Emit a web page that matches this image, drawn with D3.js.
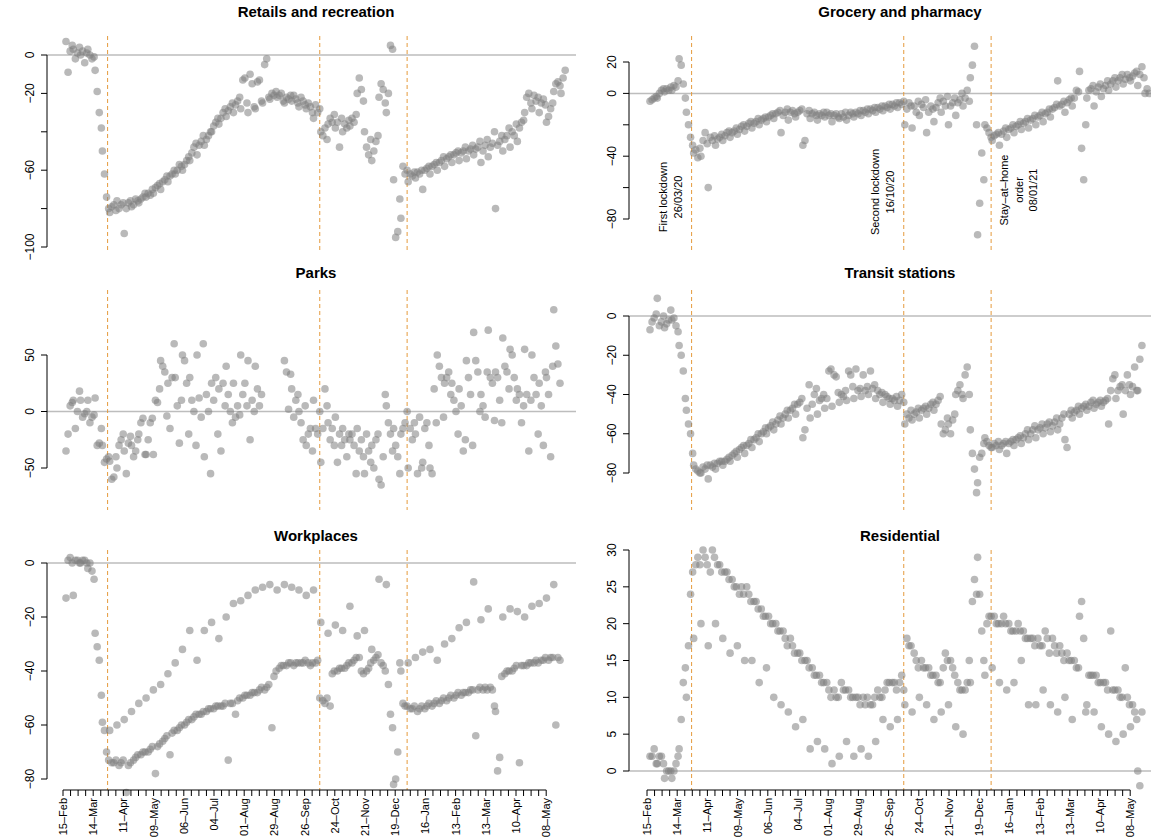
<!DOCTYPE html>
<html>
<head>
<meta charset="utf-8">
<script src="https://cdn.jsdelivr.net/npm/d3@7"></script>
<style>
  body { margin: 0; background: #fff; }
  svg { font-family: "Liberation Sans", Arial, sans-serif; }
</style>
</head>
<body>
<svg id="chart" width="1151" height="837"></svg>
<script>
// weekly rows, values on Sat, Mon, Wed, Fri of each week starting 15 Feb 2020
const retail = [
  [7,-9,2,5],[3,-2,1,4],[0,2,-4,1],[3,0,-2,-1],[-8,-19,-30,-38],[-50,-62,-74,-80],
  [-82,-79,-78,-81],[-76,-80,-78,-77],[-93,-80,-77,-76],[-79,-78,-75,-76],[-77,-75,-74,-72],
  [-74,-72,-73,-70],[-72,-69,-68,-67],[-70,-66,-65,-63],[-66,-63,-62,-60],[-62,-60,-57,-58],
  [-60,-57,-55,-53],[-55,-51,-48,-46],[-52,-47,-45,-42],[-47,-44,-42,-40],[-40,-37,-35,-33],
  [-36,-33,-30,-28],[-32,-29,-27,-25],[-30,-26,-24,-22],[-28,-13,-12,-25],[-30,-10,-15,-27],
  [-28,-14,-13,-24],[-25,-5,-2,-22],[-23,-20,-21,-19],[-22,-21,-20,-24],[-25,-22,-23,-21],
  [-24,-21,-23,-25],[-27,-22,-24,-26],[-28,-25,-27,-30],[-33,-26,-30,-28],[-40,-42,-38,-44],
  [-36,-33,-35,-31],[-38,-35,-48,-33],[-40,-36,-38,-34],[-37,-33,-35,-31],[-20,-12,-18,-24],
  [-40,-48,-52,-44],[-55,-50,-45,-42],[-22,-15,-18,-25],[-30,-20,5,3],[-65,-95,-92,-75],
  [-85,-58,-62,-60],[-66,-62,-63,-61],[-64,-61,-62,-60],[-70,-60,-59,-58],[-62,-58,-57,-56],
  [-60,-56,-55,-53],[-58,-54,-53,-52],[-56,-52,-51,-50],[-55,-51,-50,-48],[-54,-50,-49,-47],
  [-52,-49,-48,-45],[-56,-50,-47,-44],[-53,-48,-46,-40],[-80,-47,-45,-42],[-50,-44,-42,-38],
  [-48,-40,-42,-36],[-45,-38,-35,-34],[-30,-22,-20,-25],[-28,-21,-24,-22],[-30,-25,-23,-26],
  [-35,-32,-28,-25],[-19,-15,-14,-16],[-20,-12,-8]
];
const grocery = [
  [-5,-4,-3,-2],[-3,0,2,3],[1,3,2,4],[2,5,4,8],[22,18,6,-3],[-12,-20,-28,-33],
  [-38,-36,-41,-35],[-40,-30,-25,-32],[-60,-28,-30,-27],[-33,-29,-28,-26],[-30,-27,-25,-24],
  [-28,-25,-24,-22],[-26,-23,-21,-20],[-24,-21,-19,-18],[-22,-19,-18,-16],[-20,-17,-16,-15],
  [-18,-15,-14,-13],[-16,-13,-12,-11],[-25,-14,-12,-10],[-17,-12,-11,-13],[-15,-12,-11,-10],
  [-33,-30,-13,-11],[-16,-13,-12,-14],[-17,-13,-14,-12],[-15,-12,-14,-13],[-18,-14,-13,-15],
  [-16,-13,-15,-12],[-17,-14,-12,-13],[-15,-12,-13,-11],[-14,-11,-12,-10],[-13,-10,-11,-9],
  [-12,-9,-10,-8],[-11,-8,-9,-7],[-10,-7,-8,-6],[-9,-6,-7,-5],[-20,-10,-6,-8],
  [-22,-8,-12,-5],[-14,-7,-9,-4],[-25,-12,-8,-10],[-18,-9,-6,-3],[-12,-5,-8,-2],
  [-20,-8,-6,-3],[-14,-6,-4,0],[-8,-3,2,-5],[10,18,30,-20],[-90,-70,-38,-55],
  [-20,-22,-25,-28],[-30,-27,-26,-25],[-33,-26,-24,-22],[-28,-23,-22,-20],[-25,-21,-20,-18],
  [-23,-19,-18,-16],[-22,-17,-16,-14],[-20,-15,-14,-12],[-18,-13,-12,-10],[-15,-10,-9,-7],
  [8,-8,-7,-5],[-12,-6,-4,-3],[-8,-3,2,1],[14,-35,-55,-20],[-3,2,3,5],
  [-8,1,4,6],[-2,3,5,8],[2,6,8,10],[4,8,10,12],[6,9,12,10],
  [8,11,13,14],[5,12,17,10],[0,3,0]
];
const parks = [
  [-35,-20,5,8],[10,-15,0,18],[10,-5,-2,0],[10,-10,-5,-3],[12,-30,-28,-15],[-30,-45,-42,-40],
  [-44,-60,-58,-40],[-50,-30,-25,-20],[-35,-55,-28,-22],[-30,-40,-35,-25],[-20,-10,-6,-38],
  [-38,-25,-10,-6],[-38,10,8,20],[45,40,35,-4],[25,-15,30,60],[30,5,-28,10],
  [50,45,25,-20],[30,10,0,-30],[50,12,-5,60],[-40,15,0,-55],[25,10,30,-20],
  [20,-35,25,5],[40,15,0,-10],[25,-5,5,-3],[50,15,25,5],[45,-25,10,0],
  [40,20,5,15],[null,null,null,null],[null,null,null,null],[null,null,null,null],[45,35,2,33],
  [20,-5,10,15],[0,-10,-25,5],[-30,-20,-15,-35],[10,-15,-20,0],[-45,-15,20,5],
  [-10,-25,-15,-30],[-5,-45,-20,-30],[-15,-25,-40,-20],[-25,-20,-30,-55],[-15,-35,-25,-40],
  [-55,-20,-35,-45],[-30,-50,-25,-20],[-60,-65,-40,15],[5,-10,-20,-35],[-15,-30,-40,-55],
  [-20,-15,-10,0],[-50,-15,-25,-10],[-20,-55,-5,-50],[-45,-15,-10,-30],[-50,-55,20,-10],
  [50,40,30,-5],[25,30,35,15],[25,10,0,-20],[20,5,-35,-25],[45,30,15,-30],
  [70,45,35,0],[15,5,-5,35],[72,30,25,-8],[35,30,10,-10],[65,40,35,20],
  [55,50,30,10],[20,15,-10,5],[55,15,-35,10],[50,30,15,-20],[25,5,-30,35],
  [30,15,-40,40],[90,58,42,25]
];
const transit = [
  [-7,-3,-1,1],[9,-5,-3,0],[-6,-4,-2,3],[-2,-1,-5,-8],[-15,-20,-28,-42],[-48,-55,-60,-70],
  [-76,-78,-79,-80],[-80,-77,-78,-76],[-83,-76,-77,-75],[-78,-75,-74,-74],[-76,-74,-73,-72],
  [-74,-71,-70,-69],[-72,-68,-67,-66],[-70,-66,-65,-63],[-67,-63,-62,-60],[-64,-60,-59,-57],
  [-60,-57,-56,-54],[-58,-55,-53,-51],[-55,-52,-50,-48],[-52,-48,-47,-45],[-50,-45,-44,-42],
  [-62,-58,-47,-35],[-52,-45,-40,-37],[-50,-43,-42,-40],[-47,-42,-28,-27],[-46,-30,-31,-39],
  [-44,-40,-41,-38],[-43,-28,-30,-36],[-42,-27,-38,-37],[-41,-30,-38,-36],[-40,-28,-37,-35],
  [-42,-38,-40,-39],[-44,-40,-41,-42],[-45,-42,-43,-41],[-46,-43,-40,-44],[-55,-50,-52,-48],
  [-53,-50,-49,-47],[-52,-48,-47,-46],[-50,-47,-45,-44],[-48,-45,-43,-41],[-55,-60,-58,-52],
  [-55,-60,-53,-50],[-40,-38,-35,-40],[-42,-30,-26,-40],[-58,-70,-78,-90],[-85,-72,-70,-65],
  [-62,-64,-66,-67],[-67,-65,-66,-64],[-68,-66,-65,-64],[-70,-65,-64,-63],[-66,-63,-62,-61],
  [-65,-62,-60,-58],[-63,-60,-58,-56],[-62,-58,-57,-55],[-60,-57,-55,-54],[-59,-56,-54,-52],
  [-58,-55,-52,-50],[-63,-67,-50,-48],[-52,-49,-48,-46],[-50,-47,-46,-45],[-48,-46,-44,-43],
  [-47,-45,-44,-43],[-46,-44,-43,-42],[-55,-38,-32,-30],[-42,-38,-36,-35],[-50,-38,-30,-35],
  [-40,-36,-26,-38],[-38,-22,-15]
];
const workplaces = [
  [-13,1,2,0],[-12,1,1,0],[0,1,1,0],[-2,0,-3,-6],[-26,-31,-36,-49],[-59,-62,-70,-73],
  [-62,-74,-74,-73],[-60,-75,-74,-73],[-58,-85,-75,-74],[-55,-73,-72,-71],[-52,-71,-70,-70],
  [-50,-70,-69,-68],[-47,-78,-68,-67],[-45,-66,-65,-64],[-41,-71,-63,-62],[-37,-62,-61,-60],
  [-32,-60,-59,-58],[-25,-58,-57,-56],[-36,-56,-56,-55],[-25,-55,-54,-54],[-22,-54,-53,-53],
  [-28,-53,-53,-52],[-20,-73,-52,-52],[-15,-56,-51,-50],[-14,-50,-49,-49],[-12,-49,-48,-48],
  [-10,-48,-47,-46],[-9,-47,-46,-45],[-8,-61,-42,-40],[-10,-39,-38,-38],[-8,-38,-37,-37],
  [-9,-38,-37,-37],[-10,-37,-37,-36],[-12,-37,-38,-37],[-10,-37,-36,-50],[-22,-51,-52,-50],
  [-26,-53,-41,-40],[-23,-40,-39,-39],[-25,-39,-38,-37],[-16,-37,-36,-35],[-27,-35,-40,-41],
  [-25,-40,-39,-37],[-32,-36,-35,-34],[-6,-37,-38,-40],[-8,-45,-56,-61],[-82,-80,-70,-37],
  [-40,-52,-53,-53],[-37,-54,-54,-53],[-35,-55,-54,-53],[-33,-54,-53,-52],[-32,-53,-52,-51],
  [-36,-52,-51,-50],[-30,-51,-50,-49],[-28,-50,-49,-48],[-24,-49,-48,-48],[-22,-48,-47,-47],
  [-7,-64,-47,-46],[-21,-47,-46,-47],[-17,-46,-47,-53],[-55,-77,-72,-42],[-20,-41,-40,-40],
  [-17,-40,-39,-38],[-18,-74,-38,-38],[-20,-38,-37,-37],[-16,-37,-36,-37],[-15,-36,-36,-35],
  [-13,-36,-35,-35],[-8,-60,-35,-36]
];
const residential = [
  [2,2,3,1],[1,2,2,1],[-1,0,0,0],[-1,0,1,2],[3,7,12,14],[10,17,24,27],
  [18,28,29,28],[20,30,29,28],[17,27,30,29],[20,28,28,27],[18,27,27,26],
  [16,26,25,25],[17,24,25,24],[15,25,24,23],[15,23,23,22],[12,22,21,21],
  [14,21,20,20],[10,20,19,19],[9,19,18,17],[8,18,17,16],[6,16,16,15],
  [7,15,15,14],[3,14,13,13],[4,13,12,12],[3,12,11,10],[1,11,10,10],
  [2,12,11,11],[4,11,10,10],[2,10,10,9],[3,10,9,10],[2,9,9,10],
  [4,11,10,10],[7,11,12,12],[6,12,12,11],[7,12,13,11],[9,18,17,17],
  [8,16,15,14],[10,15,14,14],[9,14,13,13],[7,13,12,12],[8,14,16,15],
  [9,15,14,13],[6,12,11,11],[5,11,12,15],[12,23,26,24],[29,24,19,15],
  [13,20,21,21],[14,21,20,20],[12,20,21,20],[11,20,19,19],[12,19,20,19],
  [15,19,18,18],[9,18,18,17],[9,18,17,17],[11,19,18,16],[9,18,17,16],
  [8,17,16,15],[10,16,15,15],[7,15,14,14],[21,23,18,8],[9,13,13,13],
  [8,13,12,12],[6,12,12,11],[5,19,11,11],[4,11,10,10],[5,14,10,9],
  [6,9,8,7],[0,-2,8]
];

const dayOffsets = [0, 2, 4, 6];
const events = [
  {date: new Date(2020, 2, 26), label: ['First lockdown', '26/03/20'], cy: 197, side: -1},
  {date: new Date(2020, 9, 16), label: ['Second lockdown', '16/10/20'], cy: 192, side: -1},
  {date: new Date(2021, 0, 8), label: ['Stay\u2013at\u2013home', 'order', '08/01/21'], cy: 190, side: 1}
];
const tickLabels = ['15\u2013Feb','14\u2013Mar','11\u2013Apr','09\u2013May','06\u2013Jun','04\u2013Jul',
  '01\u2013Aug','29\u2013Aug','26\u2013Sep','24\u2013Oct','21\u2013Nov','19\u2013Dec','16\u2013Jan',
  '13\u2013Feb','13\u2013Mar','10\u2013Apr','08\u2013May'];

const panels = [
  {title: 'Retails and recreation', data: retail, col: 0, row: 0, y: [[0, 55], [-100, 247]],
   ticks: [0,-20,-40,-60,-80,-100], labels: [0,-20,-60,-100]},
  {title: 'Grocery and pharmacy', data: grocery, col: 1, row: 0, y: [[20, 62], [-80, 219]],
   ticks: [20,0,-20,-40,-60,-80], labels: [20,0,-40,-80], notes: true},
  {title: 'Parks', data: parks, col: 0, row: 1, y: [[50, 355], [-50, 468]],
   ticks: [50,0,-50], labels: [50,0,-50]},
  {title: 'Transit stations', data: transit, col: 1, row: 1, y: [[0, 316], [-80, 473]],
   ticks: [0,-20,-40,-60,-80], labels: [0,-20,-40,-60,-80]},
  {title: 'Workplaces', data: workplaces, col: 0, row: 2, y: [[0, 563], [-80, 779]],
   ticks: [0,-20,-40,-60,-80], labels: [0,-20,-40,-60,-80], axis: true},
  {title: 'Residential', data: residential, col: 1, row: 2, y: [[30, 550], [0, 771]],
   ticks: [0,5,10,15,20,25,30], labels: [0,5,10,15,20,25,30], axis: true}
];

const rows = [{top: 36, bottom: 250, titleY: 17}, {top: 290, bottom: 510, titleY: 278}, {top: 550, bottom: 790, titleY: 541}];
const colOffset = 584;
const start = new Date(2020, 1, 15);
const end = new Date(2021, 5, 14);

const svg = d3.select('#chart');

panels.forEach(p => {
  const dx = p.col * colOffset;
  const r = rows[p.row];
  const x = d3.scaleTime().domain([start, end]).range([66 + dx, 66 + dx + 485 * 1.04]);
  const y = d3.scaleLinear().domain([p.y[0][0], p.y[1][0]]).range([p.y[0][1], p.y[1][1]]);
  const g = svg.append('g');
  const left = p.col ? 629 : 47;

  // zero line
  g.append('line')
    .attr('x1', left).attr('x2', Math.min(576 + dx, 1151))
    .attr('y1', y(0)).attr('y2', y(0))
    .attr('stroke', '#bdbdbd').attr('stroke-width', 1.5);

  // event lines
  events.forEach(e => {
    g.append('line')
      .attr('x1', x(e.date)).attr('x2', x(e.date))
      .attr('y1', r.top).attr('y2', r.bottom)
      .attr('stroke', '#e59a3c').attr('stroke-width', 1)
      .attr('stroke-dasharray', '4,3');
  });

  // points
  const pts = [];
  p.data.forEach((wk, w) => wk.forEach((v, j) => {
    if (v !== null) pts.push({date: d3.timeDay.offset(start, w * 7 + dayOffsets[j]), v});
  }));
  g.selectAll('circle').data(pts).join('circle')
    .attr('cx', d => x(d.date)).attr('cy', d => y(d.v)).attr('r', 3.8)
    .attr('fill', '#7f7f7f').attr('fill-opacity', 0.55);

  // y axis
  const ya = g.append('g');
  const ext = d3.extent(p.ticks);
  ya.append('line').attr('x1', left).attr('x2', left)
    .attr('y1', y(ext[0])).attr('y2', y(ext[1])).attr('stroke', '#000');
  p.ticks.forEach(t => {
    ya.append('line').attr('x1', left - 6).attr('x2', left)
      .attr('y1', y(t)).attr('y2', y(t)).attr('stroke', '#000');
  });
  p.labels.forEach(t => {
    ya.append('text')
      .attr('transform', `translate(${left - 13},${y(t)}) rotate(-90)`)
      .attr('text-anchor', 'middle').attr('font-size', 12)
      .text(t < 0 ? '\u2212' + Math.abs(t) : t);
  });

  // title
  g.append('text')
    .attr('x', 316 + dx).attr('y', r.titleY)
    .attr('text-anchor', 'middle').attr('font-size', 15).attr('font-weight', 'bold')
    .text(p.title);

  // annotations
  if (p.notes) {
    events.forEach(e => {
      const n = e.label.length;
      e.label.forEach((s, i) => {
        const lx = e.side < 0
          ? x(e.date) - 10 - (n - 1 - i) * 14.5
          : x(e.date) + 17 + i * 14.5;
        g.append('text')
          .attr('transform', `translate(${lx},${e.cy}) rotate(-90)`)
          .attr('text-anchor', 'middle').attr('font-size', 11)
          .text(s);
      });
    });
  }

  // x axis
  if (p.axis) {
    const xa = g.append('g');
    const x0 = 63 + dx, step = 7.55, axY = 790;
    xa.append('line').attr('x1', x0).attr('x2', x0 + 64 * step)
      .attr('y1', axY).attr('y2', axY).attr('stroke', '#000');
    d3.range(65).forEach(i => {
      xa.append('line').attr('x1', x0 + i * step).attr('x2', x0 + i * step)
        .attr('y1', axY).attr('y2', axY + 6).attr('stroke', '#000');
    });
    tickLabels.forEach((s, i) => {
      xa.append('text')
        .attr('transform', `translate(${x0 + i * 4 * step + 4},${axY + 8}) rotate(-90)`)
        .attr('text-anchor', 'end').attr('font-size', 11)
        .text(s);
    });
  }
});
</script>
</body>
</html>
